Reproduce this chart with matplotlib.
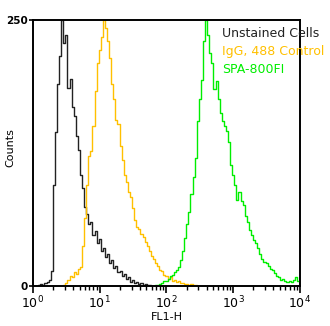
import numpy as np
import matplotlib
matplotlib.use("Agg")
import matplotlib.pyplot as plt
from matplotlib.ticker import LogLocator, FixedLocator, NullFormatter

# histogram channels: 32 bins per decade on FL1-H (0..127 -> 10^0..10^4)
BINS_PER_DECADE = 32

unstained_start = 0
unstained = [0, 0, 0, 1, 2, 1, 3, 4, 6, 14, 95, 145, 190, 216, 250, 228,
             236, 186, 195, 168, 160, 141, 128, 104, 92, 74, 68, 58, 60, 48,
             52, 40, 44, 33, 36, 27, 30, 22, 24, 17, 19, 13, 14, 9, 11, 7, 8,
             4, 6, 3, 4, 2, 3, 1, 2, 1, 1, 0, 0]

igg_start = 14
igg = [0, 1, 3, 6, 9, 8, 13, 11, 16, 18, 38, 64, 95, 122, 127, 150, 183,
       210, 222, 234, 250, 242, 230, 214, 190, 176, 156, 152, 132, 118, 104,
       98, 88, 84, 73, 62, 55, 54, 49, 46, 41, 38, 33, 28, 25, 22, 19, 15,
       14, 10, 9, 7, 8, 5, 6, 4, 5, 3, 3, 2, 2, 1, 2, 1, 1, 0]

spa_start = 58
spa = [0, 1, 1, 2, 3, 5, 5, 7, 9, 10, 13, 15, 18, 24, 33, 45, 58, 70, 86,
       102, 120, 155, 176, 194, 230, 250, 236, 219, 210, 185, 193, 176, 163,
       155, 150, 146, 135, 114, 104, 95, 81, 88, 80, 76, 66, 60, 53, 48, 43,
       40, 36, 30, 25, 23, 22, 19, 16, 15, 12, 9, 8, 6, 7, 5, 4, 5, 4, 6, 8, 5]

labels = ["Unstained Cells", "IgG, 488 Control", "SPA-800FI"]
colors = ["#222222", "#ffc000", "#00ee00"]


def fl1(start, counts):
    ch = np.arange(start, start + len(counts))
    return 10 ** (ch / BINS_PER_DECADE)


fig = plt.figure(figsize=(3.3, 3.26), dpi=100)
ax = fig.add_axes([0.1, 0.1227, 0.809, 0.816])

for start, counts, c in [(unstained_start, unstained, colors[0]),
                         (igg_start, igg, colors[1]),
                         (spa_start, spa, colors[2])]:
    ax.plot(fl1(start, counts), counts, drawstyle="steps-mid", color=c, lw=1.0)

ax.set_xscale("log")
ax.set_xlim(1, 1e4)
ax.set_ylim(0, 250)
ax.xaxis.set_major_locator(LogLocator(base=10, numticks=10))
ax.xaxis.set_minor_locator(LogLocator(base=10, subs=np.arange(2, 10), numticks=10))
ax.xaxis.set_minor_formatter(NullFormatter())
ax.yaxis.set_major_locator(FixedLocator([0, 250]))
ax.tick_params(axis="x", which="major", direction="out", length=5, width=1.2,
               labelsize=9, pad=1)
ax.tick_params(axis="x", which="minor", direction="out", length=3, width=1)
ax.tick_params(axis="y", direction="out", length=3, width=1.2, labelsize=7.5, pad=1)
for lab in ax.get_yticklabels():
    lab.set_fontweight("bold")
for s in ax.spines.values():
    s.set_linewidth(1.4)

ax.set_xlabel("FL1-H", fontsize=8, labelpad=1)
ax.set_ylabel("Counts", fontsize=8)
ax.yaxis.set_label_coords(-0.065, 0.52)

for i, (t, c) in enumerate(zip(labels, colors)):
    fig.text(0.672, 0.896 - i * 0.054, t, color=c, fontsize=9, va="center")

fig.savefig("out.png", dpi=100)
